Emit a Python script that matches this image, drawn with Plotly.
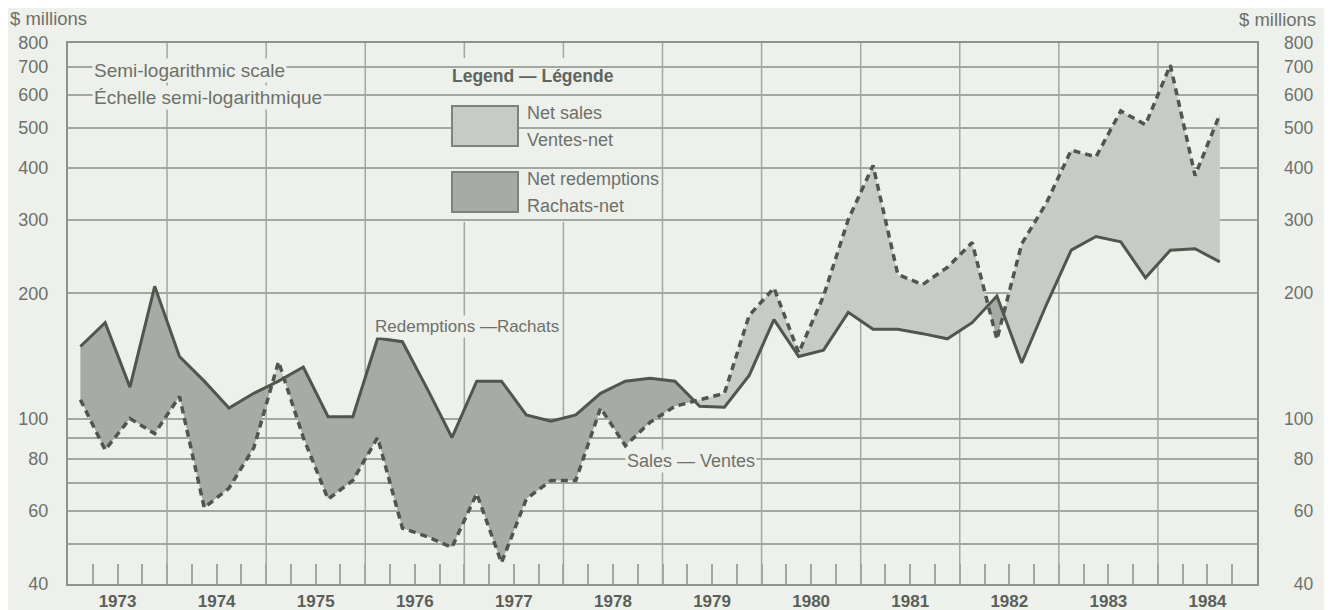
import math
import plotly.graph_objects as go

# ---------------- data (quarterly, $ millions) ----------------
years = list(range(1973, 1985))
year_labels = [str(y) for y in years]

redemptions = [149, 170, 119, 208,
               141, 123, 106, 115,
               123, 133, 101, 101,
               156, 153, 118, 90,
               123, 123, 102, 98.5,
               102, 115, 123, 125,
               123, 107, 106.5, 127,
               173, 141, 146, 180,
               164, 164, 160, 155.5,
               170, 197, 136, 188,
               254, 274, 266, 218,
               254, 256, 238]

sales = [111, 84, 100, 92,
         113, 61, 68, 85,
         137, 90, 64, 71,
         90, 54.5, 52, 49,
         66, 45, 64, 71,
         71, 106, 86, 98,
         107, 111, 115, 177,
         206, 144, 197, 301,
         406, 222, 210, 231,
         265, 155, 263, 330,
         442, 426, 549, 509,
         708, 384, 539]

ytick_vals = [40, 50, 60, 70, 80, 90, 100, 200, 300, 400, 500, 600, 700, 800]
ytick_text = ["40", "", "60", "", "80", "", "100", "200", "300", "400", "500", "600", "700", "800"]

# ---------------- styling ----------------
BG = "#eef0ec"
LIGHT = "#c8cbc5"
DARK = "#a8aba5"
LINE = "#4f574d"
GRID = "#a2a7a0"
TXT = "#6c7169"
FONT = "Liberation Sans, Arial, sans-serif"

# page body has an 8px margin; plot area lands at screen x 68..1257, y 43..584
OFF = 8
W, H = 1332 - OFF, 610 - OFF
L, R, T, B = 68, 1257, 43, 584


def px(xp):
    return (xp - L) / (R - L)


def py(yp):
    return (B - yp) / (B - T)


# right-hand labels are right-aligned: pad with figure spaces (digit width)
ytick_text_right = [t.rjust(3, "\u2007") if t else "" for t in ytick_text]

# quarter centre positions
n = len(sales)
xq = [years[0] + 0.125 + 0.25 * i for i in range(n)]

# insert crossing points (straight lines on the log scale)
xs, rs = [], []
hi, lo = [], []
for i in range(n):
    xs.append(xq[i]); rs.append(redemptions[i])
    hi.append(max(sales[i], redemptions[i])); lo.append(min(sales[i], redemptions[i]))
    if i < n - 1:
        d0 = math.log10(sales[i]) - math.log10(redemptions[i])
        d1 = math.log10(sales[i + 1]) - math.log10(redemptions[i + 1])
        if d0 * d1 < 0:
            t = d0 / (d0 - d1)
            xc = xq[i] + t * (xq[i + 1] - xq[i])
            lr = math.log10(redemptions[i]) + t * (math.log10(redemptions[i + 1]) - math.log10(redemptions[i]))
            v = 10 ** lr
            xs.append(xc); rs.append(v); hi.append(v); lo.append(v)

fig = go.Figure()
fig.add_trace(go.Scatter(x=xs, y=rs, mode="lines", line=dict(width=0), hoverinfo="skip", showlegend=False))
fig.add_trace(go.Scatter(x=xs, y=hi, mode="lines", line=dict(width=0), fill="tonexty", fillcolor=LIGHT,
                         hoverinfo="skip", showlegend=False))
fig.add_trace(go.Scatter(x=xs, y=rs, mode="lines", line=dict(width=0), hoverinfo="skip", showlegend=False))
fig.add_trace(go.Scatter(x=xs, y=lo, mode="lines", line=dict(width=0), fill="tonexty", fillcolor=DARK,
                         hoverinfo="skip", showlegend=False))
fig.add_trace(go.Scatter(x=xq, y=sales, mode="lines", name="Sales — Ventes",
                         line=dict(color=LINE, width=3.5, dash="7px,5px"), showlegend=False))
fig.add_trace(go.Scatter(x=xq, y=redemptions, mode="lines", name="Redemptions — Rachats",
                         line=dict(color=LINE, width=3), showlegend=False))
# invisible trace to activate right axis
fig.add_trace(go.Scatter(x=[xq[0]], y=[redemptions[0]], yaxis="y2", mode="markers",
                         marker=dict(opacity=0), hoverinfo="skip", showlegend=False))

shapes = []
# year boundary lines
for y in years[1:]:
    shapes.append(dict(type="line", xref="x", yref="paper", x0=y, x1=y, y0=0, y1=1,
                       line=dict(color=GRID, width=1.5), layer="below"))
# legend background panel
shapes.append(dict(type="rect", xref="paper", yref="paper", x0=px(440), x1=px(640), y0=py(222), y1=py(58),
                   fillcolor=BG, line=dict(width=0), layer="below"))
# legend swatches
shapes.append(dict(type="rect", xref="paper", yref="paper", x0=px(452), x1=px(518), y0=py(146), y1=py(106),
                   fillcolor=LIGHT, line=dict(color="#7d837b", width=2)))
shapes.append(dict(type="rect", xref="paper", yref="paper", x0=px(452), x1=px(518), y0=py(212), y1=py(172),
                   fillcolor=DARK, line=dict(color="#7d837b", width=2)))

ann = []


def text(xp, yp, s, size=17, anchor="left", bold=False, bg=None, color=TXT):
    d = dict(x=px(xp), y=py(yp), xref="paper", yref="paper", text=(f"<b>{s}</b>" if bold else s),
             showarrow=False, xanchor=anchor, yanchor="middle",
             font=dict(family=FONT, size=size, color=color))
    if bg:
        d["bgcolor"] = bg
    ann.append(d)


text(8, 18, "$ millions", size=18.5)
text(1318, 19, "$ millions", size=18.5, anchor="right")
text(92, 71, "Semi-logarithmic scale", size=19, bg=BG)
text(92, 97, "Échelle semi-logarithmique", size=19, bg=BG)
text(450, 76, "Legend — Légende", size=17.5, bold=True, color="#5f655d")
text(525, 113, "Net sales", size=18)
text(525, 140, "Ventes-net", size=18)
text(525, 179, "Net redemptions", size=18)
text(525, 206, "Rachats-net", size=18)
text(373, 326, "Redemptions —Rachats", size=17, bg=BG)
text(625, 461, "Sales — Ventes", size=18, bg=BG)

fig.update_layout(
    width=W, height=H,
    margin=dict(l=L - OFF, r=(W + OFF) - R, t=T - OFF, b=(H + OFF) - B, pad=0, autoexpand=False),
    paper_bgcolor=BG, plot_bgcolor=BG,
    font=dict(family=FONT, color=TXT),
    shapes=shapes, annotations=ann,
    xaxis=dict(range=[years[0], years[-1] + 1], tickvals=[y + 0.5 for y in years], ticktext=year_labels,
               ticks="inside", ticklen=20, tickwidth=1.5, tickcolor=GRID, automargin=False,
               minor=dict(tick0=years[0], dtick=0.25, ticks="inside", ticklen=20, tickwidth=1.5,
                          tickcolor=GRID, showgrid=False),
               showgrid=False, zeroline=False, showline=True, linecolor="#8e948c", linewidth=2, mirror=True,
               tickfont=dict(family=FONT, size=17, color="#5a6058", weight="bold"),
               ticklabelstandoff=1),
    yaxis=dict(type="log", range=[math.log10(40), math.log10(800)], tickvals=ytick_vals, ticktext=ytick_text,
               ticks="", showgrid=True, gridcolor=GRID, gridwidth=1.5, zeroline=False, automargin=False,
               showline=True, linecolor="#8e948c", linewidth=2, mirror=True,
               tickfont=dict(family=FONT, size=18, color=TXT), ticklabelstandoff=14),
    yaxis2=dict(type="log", range=[math.log10(40), math.log10(800)], tickvals=ytick_vals,
                ticktext=ytick_text_right,
                overlaying="y", side="right", ticks="", showgrid=False, zeroline=False, showline=False,
                automargin=False,
                tickfont=dict(family=FONT, size=17.5, color=TXT), ticklabelstandoff=26),
)

fig.write_html("out.html")
